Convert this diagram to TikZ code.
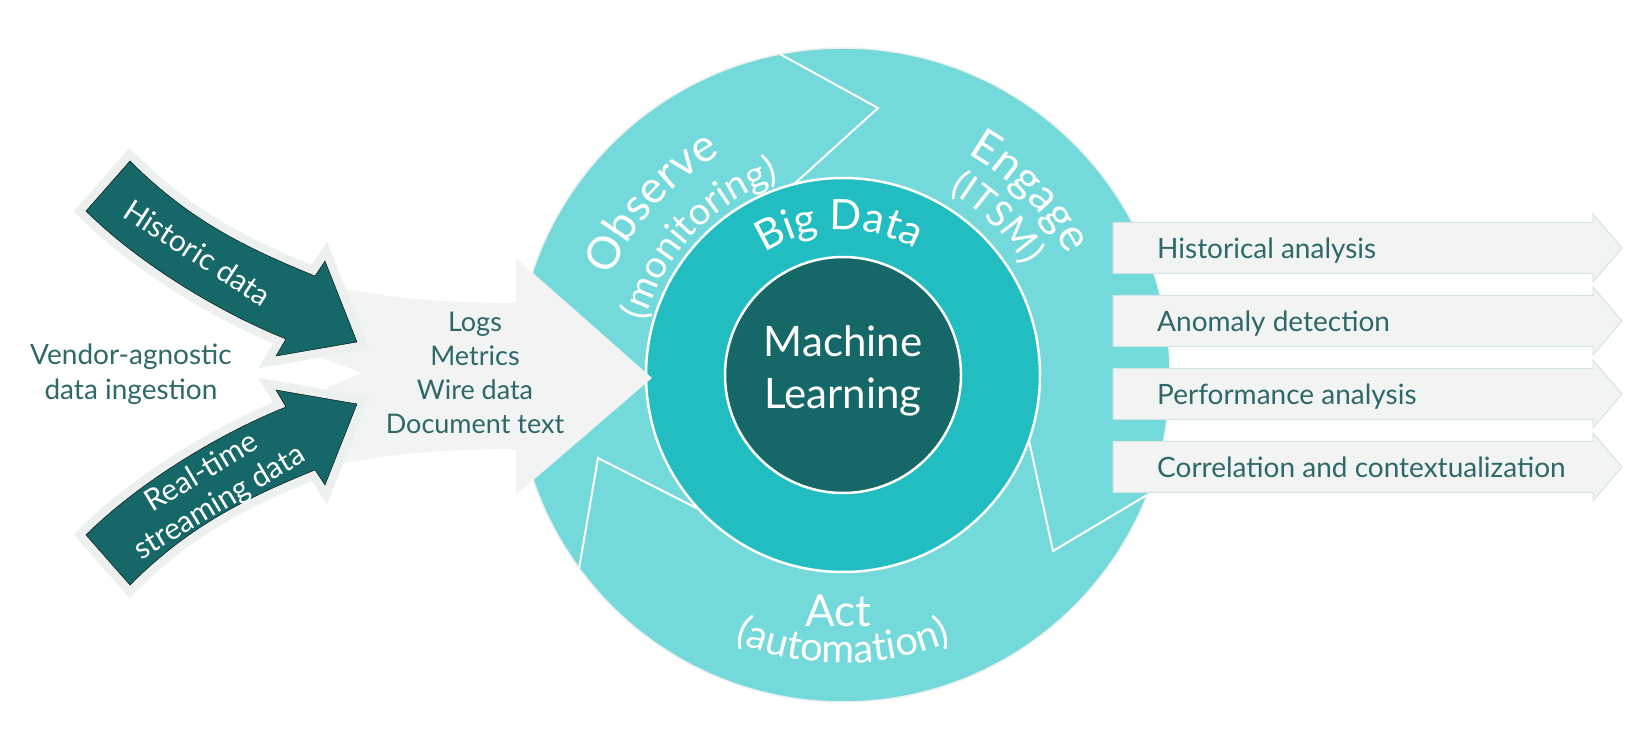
\documentclass[tikz,border=0pt]{standalone}
\usepackage{fontspec}
\setmainfont{Lato}
\usetikzlibrary{calc}
\usetikzlibrary{decorations.text}
\definecolor{ringlight}{RGB}{116,217,218}
\definecolor{ringmid}{RGB}{33,189,192}
\definecolor{mldark}{RGB}{22,104,104}
\definecolor{halo}{RGB}{236,241,240}
\definecolor{funnelgray}{RGB}{241,244,243}
\definecolor{boxline}{RGB}{212,228,227}
\definecolor{tealtext}{RGB}{46,104,104}
\newcommand{\fsz}[1]{\fontsize{#1}{#1}\selectfont}
\tikzset{darkarrow/.style = {fill=mldark,
                             preaction={draw=halo, line width=18pt, line join=miter}}}
\tikzset{funnel/.style = {fill=funnelgray}}
\tikzset{outarrow/.style = {fill=funnelgray, draw=boxline, line width=1pt}}
\tikzset{ringline/.style = {draw=white, line width=2pt}}
\tikzset{ringtext/.style = {decorate, decoration={text along path,
                                                  text align=center,
                                                  text color=white,
                                                  text={#1}}}}
\tikzset{graytext/.style = {text=tealtext, inner sep=0pt, align=center}}
\tikzset{whitetext/.style = {text=white, inner sep=0pt, align=center}}

\begin{document}
\begin{tikzpicture}[x=1pt, y=1pt]
  \useasboundingbox (0,0) rectangle (1650,750);
  \coordinate (C) at (843,375);
  \begin{scope}[shift={(C)}]
    \draw[fill=ringlight, draw=halo, line width=1.5pt] (0,0) circle (327);
    \draw[fill=ringmid, draw=white, line width=2.5pt] (0,0) circle (197);
    \draw[fill=mldark, draw=white, line width=2.5pt] (0,0) circle (118);
    \draw[ringline] (101.1:327) -- (35,267) -- (104.4:197);
    \draw[ringline] (216.2:327) -- (-245,-83) -- (223:197);
    \draw[ringline] (-19.3:197) -- (210,-176) -- (-21.5:327);
    \path[ringtext={|\fsz{45}|Observe}] (178:252) arc (178:98:252);
    \path[ringtext={|\fsz{38}|(monitoring)}] (181.5:205) arc (181.5:91.5:205);
    \path[ringtext={|\fsz{45}|Engage}] (84.4:254) arc (84.4:4.4:254);
    \path[ringtext={|\fsz{37}|(ITSM)}] (85.5:212) arc (85.5:5.5:212);
    \path[ringtext={|\fsz{42}|Big Data}] (171.5:145) arc (171.5:11.5:145);
    \path[ringtext={|\fsz{40}|(automation)}] (200:288) arc (200:340:288);
  \end{scope}
  \node[whitetext, font=\fsz{44}, anchor=base] (act) at (838,123) {Act};
  \node[whitetext, font={\fontsize{42}{52}\selectfont}] (ml) at (843,379) {Machine\\Learning};

  \fill[funnel] (300,470) .. controls (380,452) and (440,447) .. (516,447)
    -- (516,492) -- (652,372) -- (516,255) -- (516,301)
    .. controls (440,301) and (380,296) .. (300,278)
    -- (328,363) -- (362,377) -- (317,394) -- cycle;
  \draw[darkarrow] (130,589) .. controls (187,532) and (241,504) .. (315,474)
    -- (325,489) -- (357,408) -- (276,394) -- (286,411)
    .. controls (216,439) and (136,489) .. (86,539) -- cycle;
  \draw[darkarrow] (130,165) .. controls (187,222) and (241,250) .. (315,280)
    -- (325,265) -- (357,346) -- (276,360) -- (286,343)
    .. controls (216,315) and (136,265) .. (86,215) -- cycle;
  \node[whitetext, font=\fsz{30}, rotate=-33] (historic) at (198,497) {Historic data};
  \node[whitetext, font={\fontsize{30}{35}\selectfont}, rotate=31] (realtime)
    at (211,262) {Real-time\\streaming data};
  \node[graytext, font={\fontsize{28}{35}\selectfont}] (vendor)
    at (131,376) {Vendor-agnostic\\data ingestion};
  \node[graytext, font={\fontsize{27}{34}\selectfont}] (sources)
    at (475,377) {Logs\\Metrics\\Wire data\\Document text};

  \foreach \txt [count=\i] in {Historical analysis, Anomaly detection,
                               Performance analysis, Correlation and contextualization} {
    \pgfmathsetmacro{\yy}{575-73*\i}
    \draw[outarrow] (1113,\yy-25.5) -- (1593,\yy-25.5) -- (1593,\yy-34) -- (1622,\yy)
      -- (1593,\yy+34) -- (1593,\yy+25.5) -- (1113,\yy+25.5) -- cycle;
    \node[graytext, font=\fsz{28}, anchor=base west] (out\i) at (1157,\yy-11) {\txt};
  }
\end{tikzpicture}
\end{document}
